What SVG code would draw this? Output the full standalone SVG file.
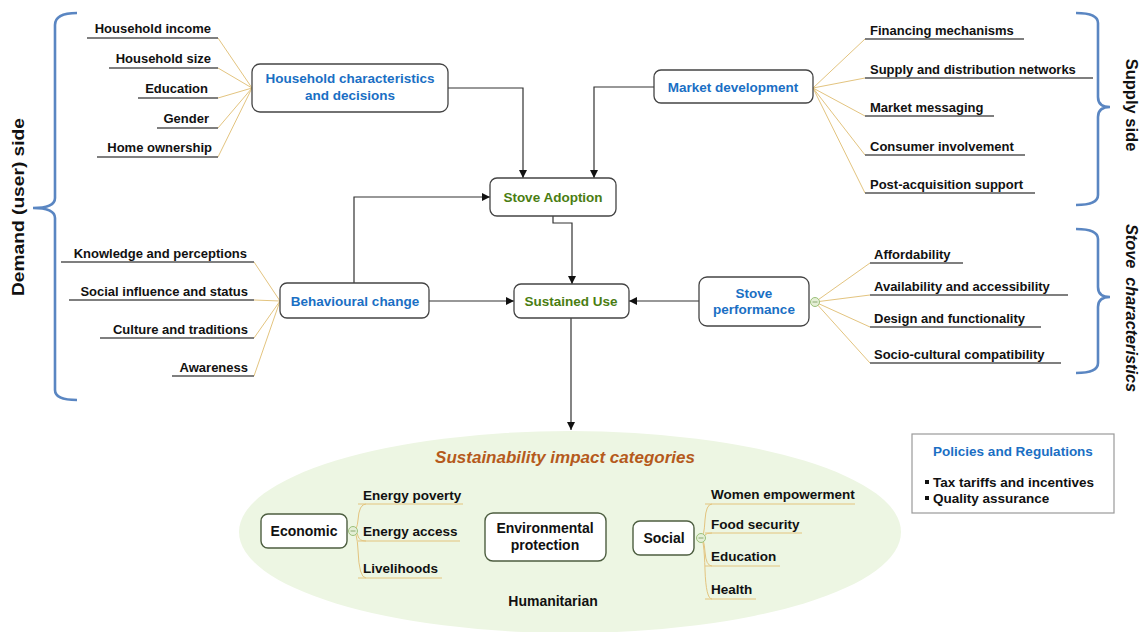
<svg xmlns="http://www.w3.org/2000/svg" width="1142" height="632" viewBox="0 0 1142 632">
<defs>
<style>
text{font-family:"Liberation Sans",Arial,sans-serif;font-weight:bold}
.item{font-size:13px;fill:#111}
.item2{font-size:13.5px;fill:#111}
.blue{fill:#1a6fc4;font-size:13.5px}
.green{fill:#4a7d12;font-size:13.5px}
.box{fill:#fff;stroke:#444;stroke-width:1.3}
.gbox{fill:#fff;stroke:#4d5e40;stroke-width:1.4}
.ul{stroke:#555;stroke-width:1.4;fill:none}
.br{stroke:#e3c47f;stroke-width:1;fill:none}
.conn{stroke:#333;stroke-width:1.2;fill:none}
.brace{stroke:#5a86c2;stroke-width:2.6;fill:none}
.side{font-size:17px;fill:#111}
.btn{fill:#e4efd6;stroke:#9bc07a;stroke-width:1}
</style>
<marker id="arr" viewBox="0 0 10 10" refX="10" refY="5" markerWidth="8" markerHeight="8" orient="auto" markerUnits="userSpaceOnUse">
<path d="M0,0 L10,5 L0,10 z" fill="#111"/>
</marker>
</defs>
<rect width="1142" height="632" fill="#fff"/>

<!-- braces and side labels -->
<g id="braces">
<path class="brace" d="M77,13 Q55,13 55,25 L55,198 Q55,208 33,208 Q55,208 55,218 L55,390 Q55,400 77,400"/>
<path class="brace" d="M1076,13 Q1098,13 1098,23 L1098,97 Q1098,107 1110,107 Q1098,107 1098,117 L1098,195 Q1098,205 1076,205"/>
<path class="brace" d="M1076,229 Q1098,229 1098,239 L1098,287 Q1098,297 1110,297 Q1098,297 1098,307 L1098,363 Q1098,373 1076,373"/>
<text class="side" transform="translate(24,207) rotate(-90)" text-anchor="middle" textLength="178" lengthAdjust="spacingAndGlyphs">Demand (user) side</text>
<text class="side" transform="translate(1126,105) rotate(90)" text-anchor="middle" style="font-size:16.5px">Supply side</text>
<text class="side" transform="translate(1126,308) rotate(90)" text-anchor="middle" style="font-size:16.5px;font-style:italic" textLength="168" lengthAdjust="spacingAndGlyphs">Stove&#160; characteristics</text>
</g>

<!-- ellipse background -->
<ellipse cx="570" cy="532" rx="331" ry="101" fill="#edf6e3"/>

<!-- connectors -->
<g id="connectors">
<path class="conn" d="M448,88 L523,88 L523,178" marker-end="url(#arr)"/>
<path class="conn" d="M654,87 L594,87 L594,178" marker-end="url(#arr)"/>
<path class="conn" d="M354,283 L354,197 L490,197" marker-end="url(#arr)"/>
<path class="conn" d="M553,216 L553,223 L572,223 L572,284" marker-end="url(#arr)"/>
<path class="conn" d="M429,301 L514,301" marker-end="url(#arr)"/>
<path class="conn" d="M699,301 L629,301" marker-end="url(#arr)"/>
<path class="conn" d="M571,318 L571,430" marker-end="url(#arr)"/>
</g>

<!-- Household characteristics -->
<g id="household">
<path class="br" d="M218,38 L252,88 M218,68 L252,88 M218,98 L252,88 M218,128 L252,88 M218,157 L252,88"/>
<path class="ul" d="M87,38 H218 M109,68 H218 M138,98 H218 M157,128 H218 M97,157 H218"/>
<g class="item" text-anchor="end">
<text x="211" y="33">Household income</text>
<text x="211" y="63">Household size</text>
<text x="208" y="93">Education</text>
<text x="209" y="123">Gender</text>
<text x="212" y="152">Home ownership</text>
</g>
<rect class="box" x="252" y="64" width="196" height="48" rx="8"/>
<text class="blue" x="350" y="83" text-anchor="middle">Household characteristics</text>
<text class="blue" x="350" y="100" text-anchor="middle">and decisions</text>
</g>

<!-- Market development -->
<g id="market">
<path class="br" d="M813,88 L865,39 M813,88 L865,78 M813,88 L865,116 M813,88 L865,155 M813,88 L865,193"/>
<path class="ul" d="M865,39 H1024 M865,78 H1093 M865,116 H994 M865,155 H1025 M865,193 H1035"/>
<g class="item">
<text x="870" y="35">Financing mechanisms</text>
<text x="870" y="74">Supply and distribution networks</text>
<text x="870" y="112">Market messaging</text>
<text x="870" y="151">Consumer involvement</text>
<text x="870" y="189">Post-acquisition support</text>
</g>
<rect class="box" x="654" y="70" width="159" height="33" rx="7"/>
<text class="blue" x="733" y="92" text-anchor="middle">Market development</text>
</g>

<!-- Stove Adoption -->
<g id="adoption">
<rect class="box" x="490" y="178" width="126" height="38" rx="7"/>
<text class="green" x="553" y="202" text-anchor="middle">Stove Adoption</text>
</g>

<!-- Sustained Use -->
<g id="sustained">
<rect class="box" x="514" y="284" width="115" height="34" rx="7"/>
<text class="green" x="571" y="306" text-anchor="middle">Sustained Use</text>
</g>

<!-- Behavioural change -->
<g id="behaviour">
<path class="br" d="M254,262 L280,301 M254,300 L280,301 M254,338 L280,301 M254,376 L280,301"/>
<path class="ul" d="M61,262 H254 M69,300 H254 M100,338 H254 M172,376 H254"/>
<g class="item" text-anchor="end">
<text x="247" y="258">Knowledge and perceptions</text>
<text x="248" y="296">Social influence and status</text>
<text x="248" y="334">Culture and traditions</text>
<text x="248" y="372">Awareness</text>
</g>
<rect class="box" x="280" y="283" width="149" height="35" rx="7"/>
<text class="blue" x="355" y="306" text-anchor="middle">Behavioural change</text>
</g>

<!-- Stove performance -->
<g id="performance">
<path class="br" d="M815,302 L870,263 M815,302 L870,295 M815,302 L870,327 M815,302 L870,363"/>
<path class="ul" d="M870,263 H963 M870,295 H1068 M870,327 H1041 M870,363 H1061"/>
<g class="item">
<text x="874" y="259">Affordability</text>
<text x="874" y="291">Availability and accessibility</text>
<text x="874" y="323">Design and functionality</text>
<text x="874" y="359">Socio-cultural compatibility</text>
</g>
<rect class="box" x="699" y="277" width="110" height="49" rx="8"/>
<text class="blue" x="754" y="298" text-anchor="middle">Stove</text>
<text class="blue" x="754" y="314" text-anchor="middle">performance</text>
<circle class="btn" cx="815" cy="302" r="4.5"/>
<path d="M812.5,302 H817.5" stroke="#8aa870" stroke-width="1"/>
</g>

<!-- Sustainability impact categories -->
<g id="impact">
<text x="565" y="463" text-anchor="middle" style="font-size:17px;font-style:italic" fill="#b55a1c">Sustainability impact categories</text>
<text x="553" y="606" text-anchor="middle" style="font-size:14px" fill="#111">Humanitarian</text>
</g>

<g id="economic">
<path class="br" d="M353,531 Q357,531 358,520 Q359,504 366,504 M353,531 Q357,531 358,536 Q359,541 366,541 M353,531 Q357,531 358,550 Q359,578 366,578"/>
<path class="br" d="M358,504 H463 M358,541 H460 M358,578 H442" stroke-width="1.2"/>
<g class="item2">
<text x="363" y="500">Energy poverty</text>
<text x="363" y="536">Energy access</text>
<text x="363" y="573">Livelihoods</text>
</g>
<rect class="gbox" x="261" y="514" width="86" height="34" rx="7"/>
<text x="304" y="536" text-anchor="middle" style="font-size:14px" fill="#111">Economic</text>
<circle class="btn" cx="353" cy="531" r="4.5"/>
<path d="M350.5,531 H355.5" stroke="#8aa870" stroke-width="1"/>
</g>

<g id="environmental">
<rect class="gbox" x="485" y="513" width="121" height="48" rx="8"/>
<text x="545" y="533" text-anchor="middle" style="font-size:14px" fill="#111">Environmental</text>
<text x="545" y="550" text-anchor="middle" style="font-size:14px" fill="#111">protection</text>
</g>

<g id="social">
<path class="br" d="M701,538 Q704,538 705,520 Q706,504 712,504 M701,538 Q704,538 705,535 Q706,533 712,533 M701,538 Q704,538 705,552 Q706,566 712,566 M701,538 Q704,538 705,570 Q706,599 712,599"/>
<path class="br" d="M705,504 H855 M705,533 H802 M705,566 H780 M705,599 H756" stroke-width="1.2"/>
<g class="item2">
<text x="711" y="499">Women empowerment</text>
<text x="711" y="529">Food security</text>
<text x="711" y="561">Education</text>
<text x="711" y="594">Health</text>
</g>
<rect class="gbox" x="633" y="521" width="61" height="34" rx="7"/>
<text x="664" y="543" text-anchor="middle" style="font-size:14px" fill="#111">Social</text>
<circle class="btn" cx="701" cy="538" r="4.5"/>
<path d="M698.5,538 H703.5" stroke="#8aa870" stroke-width="1"/>
</g>

<!-- Policies and Regulations -->
<g id="policies">
<rect x="912" y="434" width="202" height="79" fill="#fff" stroke="#9a9a9a" stroke-width="1.2"/>
<text class="blue" x="1013" y="456" text-anchor="middle">Policies and Regulations</text>
<rect x="925" y="480" width="4" height="4" fill="#111"/>
<rect x="925" y="496" width="4" height="4" fill="#111"/>
<text class="item2" x="933" y="487">Tax tariffs and incentives</text>
<text class="item2" x="933" y="503">Quality assurance</text>
</g>
</svg>
